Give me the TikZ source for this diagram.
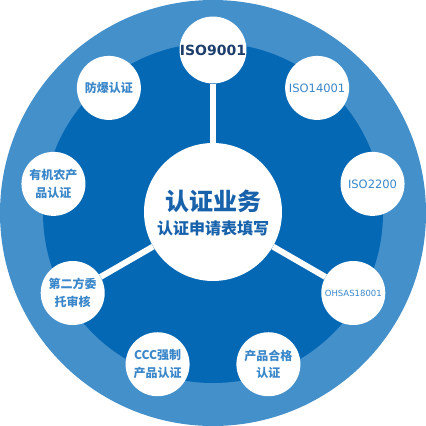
\documentclass[tikz,border=0pt]{standalone}
\usepackage{fontspec}
\usetikzlibrary{calc}
\setmainfont{DejaVu Sans}
\newfontfamily\cjk{Noto Sans CJK SC}
\definecolor{ringlight}{HTML}{4490CB}
\definecolor{ringdark}{HTML}{0568B4}
\definecolor{txtlight}{HTML}{3A87C9}
\definecolor{txtcenter}{HTML}{1862AB}
\definecolor{txtnavy}{HTML}{1D3E6C}
\begin{document}
\begin{tikzpicture}[x=1pt,y=-1pt,
  sat/.style={circle,fill=white,minimum size=64pt,inner sep=0pt,align=center,text=txtlight},
  zh/.style={font=\cjk\bfseries\fontsize{12}{17.5}\selectfont},
  conn/.style={white,line width=6pt}]
\useasboundingbox (0,0) rectangle (426,426);
\fill[ringlight] (213,213) circle (213);
\fill[ringdark] (213,213) circle (170);
\coordinate (c) at (213,212);
\node[sat,font=\bfseries\fontsize{14}{16}\selectfont,text=txtnavy] (s1) at ($(c)+(0,-162)$) {ISO9001};
\node[sat,font=\fontsize{11.5}{13}\selectfont] (s2) at ($(c)+({162*cos(50)},{-162*sin(50)})$) {ISO14001};
\node[sat,font=\fontsize{11.5}{13}\selectfont] (s3) at ($(c)+({162*cos(10)},{-162*sin(10)})$) {ISO2200};
\node[sat,font=\fontsize{8.5}{10}\selectfont] (s4) at ($(c)+({162*cos(-30)},{-162*sin(-30)})$) {OHSAS18001};
\node[sat,zh] (s5) at ($(c)+({162*cos(-70)},{-162*sin(-70)})$) {产品合格\\认证};
\node[sat,zh] (s6) at ($(c)+({162*cos(-110)},{-162*sin(-110)})$) {CCC强制\\产品认证};
\node[sat,zh] (s7) at ($(c)+({162*cos(-150)},{-162*sin(-150)})$) {第二方委\\托审核};
\node[sat,zh] (s8) at ($(c)+({162*cos(170)},{-162*sin(170)})$) {有机农产\\品认证};
\node[sat,zh] (s9) at ($(c)+({162*cos(130)},{-162*sin(130)})$) {防爆认证};
\node[circle,fill=white,minimum size=138pt,inner sep=0pt] (m) at (c) {};
\draw[conn] (m) -- (s1);
\draw[conn] (m) -- (s4);
\draw[conn] (m) -- (s7);
\node[font=\cjk\bfseries\fontsize{24}{26}\selectfont,text=txtcenter] (t1) at (213,201) {认证业务};
\node[font=\cjk\bfseries\fontsize{16}{18}\selectfont,text=txtcenter] (t2) at (213,228) {认证申请表填写};
\end{tikzpicture}
\end{document}
